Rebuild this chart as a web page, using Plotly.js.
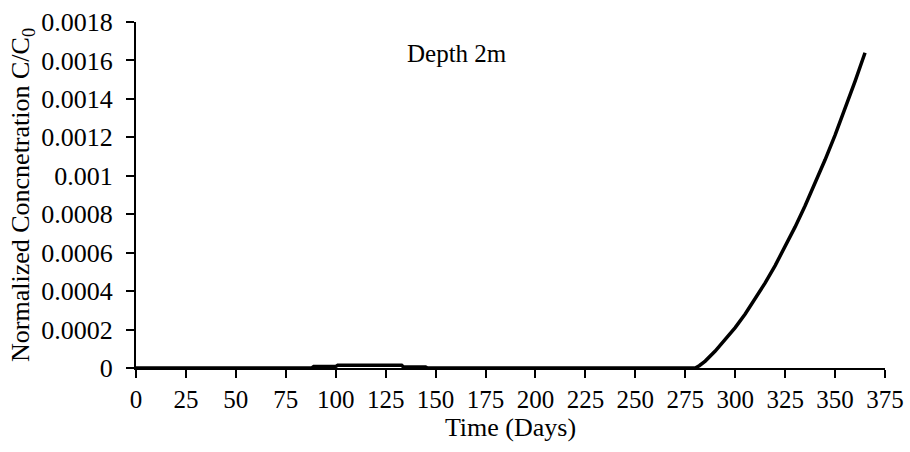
<!DOCTYPE html>
<html><head><meta charset="utf-8">
<script src="https://cdn.plot.ly/plotly-3.0.1.min.js"></script>
<style>html,body{margin:0;padding:0;background:#fff}#chart{width:910px;height:452px}</style>
</head><body><div id="chart"></div>
<script>
// Time (days) and normalized concentration C/C0 at depth 2 m
const days = [0, 64, 65, 78, 79, 88, 89, 100, 101, 133, 134, 145, 146, 280, 282, 285, 290, 295, 300, 305, 310, 315, 320, 325, 330, 335, 340, 345, 350, 355, 360, 365];
const conc = [0, 0, 0.000003, 0.000003, 0, 0, 0.000008, 0.000008, 0.000014, 0.000014, 0.000005, 0.000005, 0, 0, 0.000012, 0.000036, 0.000088, 0.000146, 0.00021, 0.000281, 0.000359, 0.000443, 0.000533, 0.00063, 0.000734, 0.000844, 0.00096, 0.001083, 0.001212, 0.001348, 0.001491, 0.00164];
const xTicks = [0, 25, 50, 75, 100, 125, 150, 175, 200, 225, 250, 275, 300, 325, 350, 375];
const yTicks = [0, 0.0002, 0.0004, 0.0006, 0.0008, 0.001, 0.0012, 0.0014, 0.0016, 0.0018];
const yTickText = ["0", "0.0002", "0.0004", "0.0006", "0.0008", "0.001", "0.0012", "0.0014", "0.0016", "0.0018"];

const FONT = "Liberation Serif, Times New Roman, serif";
const trace = {
  x: days, y: conc, type: "scatter", mode: "lines",
  line: {color: "#000", width: 3.5, shape: "linear"},
  cliponaxis: false, hoverinfo: "skip"
};
const layout = {
  width: 910, height: 452,
  margin: {l: 136, r: 25, t: 22, b: 84},
  paper_bgcolor: "#fff", plot_bgcolor: "#fff",
  showlegend: false,
  font: {family: FONT, color: "#000", size: 25},
  xaxis: {
    range: [0, 375], tickvals: xTicks, ticktext: xTicks.map(String),
    showgrid: false, zeroline: false, showline: true, linecolor: "#000", linewidth: 2,
    ticks: "outside", ticklen: 8, tickwidth: 2, tickcolor: "#000",
    tickfont: {family: FONT, size: 25, color: "#000"},
    title: {text: "Time (Days)", font: {family: FONT, size: 26, color: "#000"}, standoff: 6}
  },
  yaxis: {
    range: [0, 0.0018], tickvals: yTicks, ticktext: yTickText,
    showgrid: false, zeroline: false, showline: true, linecolor: "#000", linewidth: 2,
    ticks: "outside", ticklen: 8, tickwidth: 2, tickcolor: "#000",
    ticklabelstandoff: 8,
    tickfont: {family: FONT, size: 26, color: "#000"},
    title: {text: "Normalized Concnetration C/C<sub>0</sub>", font: {family: FONT, size: 26, color: "#000"}, standoff: 4}
  },
  annotations: [{
    text: "Depth 2m", xref: "paper", yref: "paper", x: 0.4286, y: 0.91,
    xanchor: "center", yanchor: "middle", showarrow: false,
    font: {family: FONT, size: 25, color: "#000"}
  }]
};
Plotly.newPlot("chart", [trace], layout, {staticPlot: true, displayModeBar: false});
</script></body></html>
